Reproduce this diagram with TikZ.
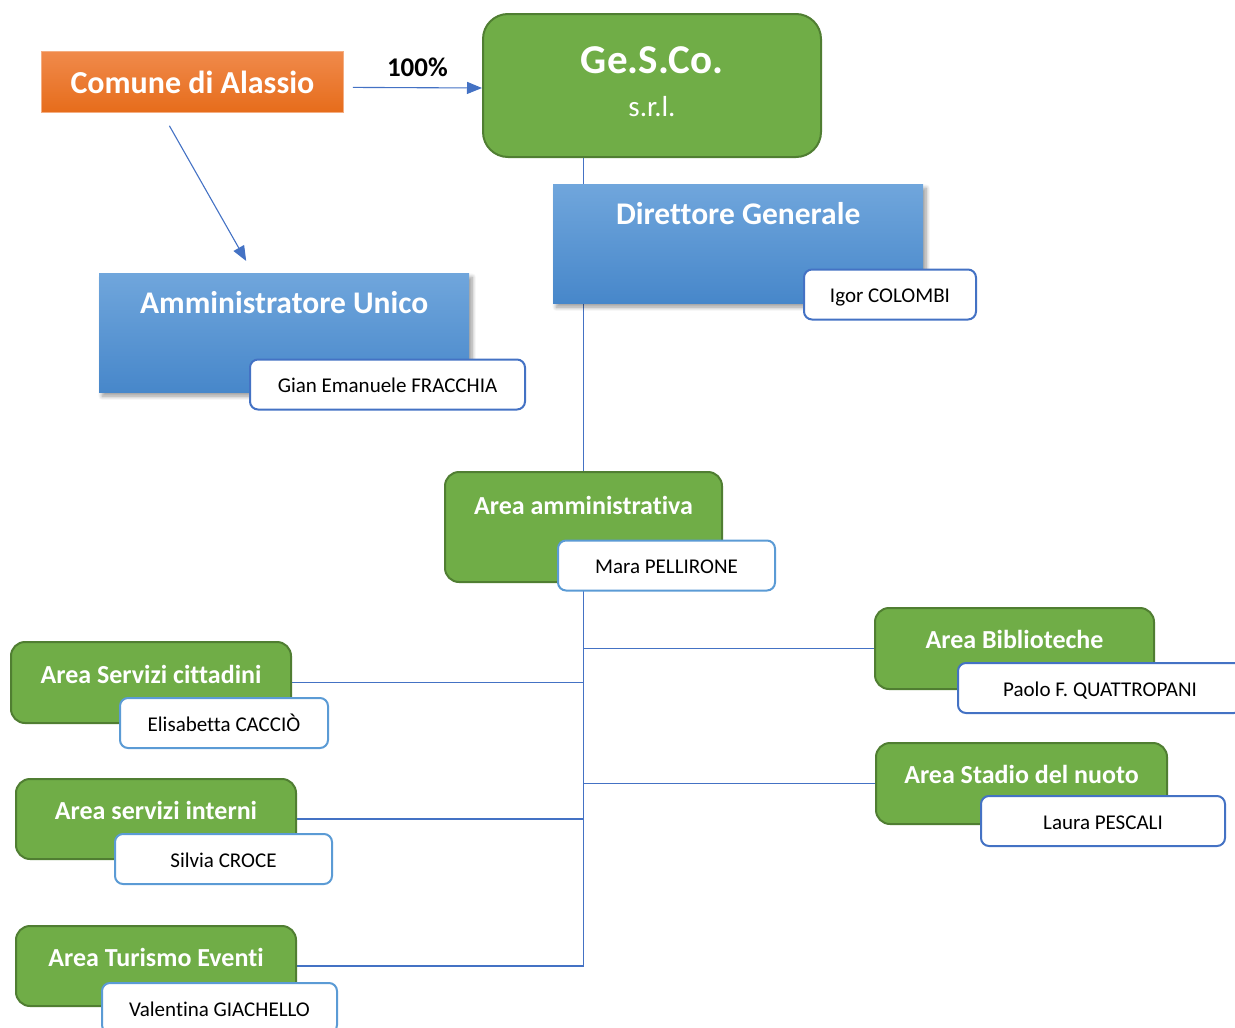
\documentclass[tikz,border=0pt]{standalone}
\usepackage{fontspec}
\setmainfont{Carlito}[Ligatures=NoCommon]
\usetikzlibrary{arrows.meta,shadows.blur,backgrounds}

\definecolor{areagreen}{HTML}{70AD47}
\definecolor{areaborder}{HTML}{507E32}
\definecolor{linkblue}{HTML}{4472C4}
\definecolor{paleblue}{HTML}{5B9BD5}
\definecolor{roletop}{HTML}{70A6DC}
\definecolor{rolebottom}{HTML}{4787CA}
\definecolor{orangetop}{HTML}{F08A4B}
\definecolor{orangebottom}{HTML}{E66C1B}

\tikzset{
  greenbox/.style={draw=areaborder, line width=2pt, fill=areagreen, rounded corners=14pt,
    text=white, font=\fontsize{26}{31}\selectfont\bfseries, inner sep=0pt, anchor=north west},
  area/.style={greenbox, text height=40.5pt, text depth=40.5pt},
  role/.style={top color=roletop, bottom color=rolebottom, text=white,
    font=\fontsize{31.5}{38}\selectfont\bfseries, inner sep=0pt, minimum width=370pt,
    text height=40pt, text depth=79pt, anchor=north west,
    blur shadow={shadow xshift=3pt, shadow yshift=-4pt, shadow opacity=40, shadow blur steps=8, shadow blur radius=4pt}},
  person/.style={draw=linkblue, line width=2pt, fill=white, rounded corners=8pt,
    font=\fontsize{21}{25}\selectfont, inner sep=0pt, text height=33pt, text depth=17pt},
  comune/.style={draw=orangetop!70!white, line width=0.8pt, top color=orangetop, bottom color=orangebottom,
    text=white, font=\fontsize{32}{38}\selectfont\bfseries, inner sep=0pt,
    minimum width=302pt, minimum height=61pt, anchor=north west},
  link/.style={draw=linkblue, line width=1.1pt},
  arrowlink/.style={link, -{Triangle[length=15pt,width=12pt]}},
}

\begin{document}
\begin{tikzpicture}[x=1pt, y=-1pt]
\useasboundingbox (0,0) rectangle (1235,1028);

% owner and company
\node[comune] (comune) at (41,51) {Comune di Alassio};
\node[greenbox, rounded corners=25pt, minimum width=338pt, minimum height=143pt, align=center]
  (gesco) at (482,13) {{\fontsize{41}{49}\selectfont Ge.S.Co.}\\[12pt]{\fontsize{29}{35}\selectfont\mdseries s.r.l.\rule[-8pt]{0pt}{8pt}}};

% direction
\node[role] (direttore) at (553,184) {Direttore Generale};
\node[person, minimum width=172pt] (colombi) at (890,294.5) {Igor COLOMBI};
\node[role] (admin) at (99,273) {Amministratore Unico};
\node[person, minimum width=275pt] (fracchia) at (387.5,384.5) {Gian Emanuele FRACCHIA};

% areas
\node[area, minimum width=277pt, text depth=68pt, text height=42pt] (amm) at (444,471) {Area amministrativa};
\node[person, draw=paleblue, minimum width=217pt] (pellirone) at (666.5,565.5) {Mara PELLIRONE};

\node[area, minimum width=279pt] (biblio) at (874,607) {Area Biblioteche};
\node[person, minimum width=284pt] (quattropani) at (1100,688) {Paolo F. QUATTROPANI};

\node[area, minimum width=291pt] (stadio) at (875,742) {Area Stadio del nuoto};
\node[person, minimum width=244pt] (pescali) at (1103,821) {Laura PESCALI};

\node[area, minimum width=280pt, text height=41.5pt, text depth=39.5pt] (cittadini) at (10,641) {Area Servizi cittadini};
\node[person, draw=paleblue, minimum width=208pt] (caccio) at (224,723) {Elisabetta CACCIÒ};

\node[area, minimum width=280pt, text depth=39.5pt] (interni) at (15,778) {Area servizi interni};
\node[person, draw=paleblue, minimum width=217pt] (croce) at (223.5,859) {Silvia CROCE};

\node[area, minimum width=280pt, text depth=39.5pt] (turismo) at (15,925) {Area Turismo Eventi};
\node[person, draw=paleblue, minimum width=235pt] (giachello) at (219.5,1008) {Valentina GIACHELLO};

% arrows from the owner
\draw[arrowlink] ([xshift=9pt,yshift=-5.5pt]comune.east) -- ([yshift=-2.5pt]gesco.west)
  node[midway, above=7pt, text=black, font=\fontsize{27}{32}\selectfont\bfseries] {100\%};
\draw[arrowlink] ([xshift=-23pt,yshift=-13pt]comune.south) -- ([xshift=-38pt,yshift=12pt]admin.north);

% tree lines behind the boxes
\begin{scope}[on background layer]
  \draw[link] (gesco.south -| amm) -- (amm |- turismo.east);
  \draw[link] (cittadini.east) -- (cittadini.east -| amm);
  \draw[link] (interni.east) -- (interni.east -| amm);
  \draw[link] (turismo.east) -- (turismo.east -| amm);
  \draw[link] (biblio.west -| amm) -- (biblio.west);
  \draw[link] (stadio.west -| amm) -- (stadio.west);
\end{scope}
\end{tikzpicture}
\end{document}
